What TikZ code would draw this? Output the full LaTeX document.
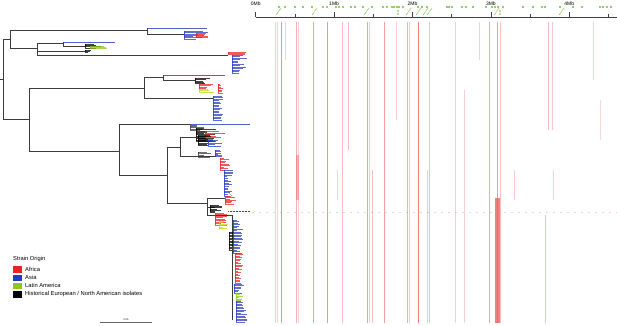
\documentclass[tikz,border=0pt]{standalone}
\usepackage{fontspec}
\setmainfont{Liberation Sans}
\definecolor{treegrey}{RGB}{60,60,60}
\definecolor{tipblue}{RGB}{40,60,190}
\definecolor{tipred}{RGB}{235,35,35}
\definecolor{tipgreen}{RGB}{140,200,20}
\definecolor{markgreen}{RGB}{110,190,50}
\definecolor{heat}{RGB}{238,95,95}
\newcommand{\tipfan}[6]{%
  \draw[fanline,#5] (#1,#2) -- ++(0,{(#3)*(#4)});
  \foreach \k in {0,...,#3}{
    \pgfmathsetmacro{\tl}{#6*(0.35+0.65*rnd)}
    \draw[tip,#5] (#1,{#2+\k*#4}) -- ++(\tl,0);
  }}
\begin{document}
\begin{tikzpicture}[x=1pt,y=-1pt,
    branch/.style={treegrey,line width=0.5pt},
    fanline/.style={line width=0.35pt,opacity=0.8},
    tip/.style={line width=0.2pt,opacity=0.75},
    heatline/.style={heat,line width=0.7pt},
    axis/.style={black!75,line width=0.6pt},
    mblabel/.style={font=\fontsize{5}{6}\selectfont,inner sep=0pt},
    legtext/.style={font=\fontsize{5.8}{6}\selectfont,anchor=west,inner sep=0pt},
    legbox/.style={minimum width=9.5pt,minimum height=6.5pt,inner sep=0pt}]
    \useasboundingbox (0,0) rectangle (617,325);
    \pgfmathsetseed{11}

    % genome axis
    \draw[axis] (255.7,17) -- (617,17);
    \foreach \mb [count=\i from 0] in {0Mb,1Mb,2Mb,3Mb,4Mb}{
        \draw[axis] ({255.7+78.4*\i},12) -- ({255.7+78.4*\i},17);
        \draw[axis] ({294.9+78.4*\i},14) -- ({294.9+78.4*\i},17);
        \node[mblabel] (mb\i) at ({255.7+78.4*\i},3.5) {\mb};
    }
    \foreach \gx in {279,285,295,303,312,323,327,336,339,343,351,355,363,372,383,387,392,394,397,399,403,418,422,427,447,449,452,462,466,473,486,492,495,498,503,523,533,542,545,560,573,582,600,603,607,611}
        \fill[markgreen] (\gx,7) circle (1.1);
    \foreach \gx in {279,315,367,409,419,426,430,497,562}
        \draw[markgreen,line width=0.6pt,dash pattern=on 1pt off 0.6pt] ({\gx-3},15) -- ({\gx+2},8);
    \foreach \gx in {398,500}{
        \fill[markgreen] (\gx,11) circle (0.8);
        \fill[markgreen] (\gx,14) circle (0.8);
    }

    % recombination heatmap
    \foreach \hx/\hy/\hz/\ho in {275/22/323/0.3,277/22/323/0.3,281/22/323/0.7,285/22/60/0.3,
        296/22/323/0.5,298/22/323/0.3,313/22/323/0.6,327/22/323/0.65,337/170/200/0.3,
        342/22/323/0.4,348/22/150/0.4,367/22/323/0.6,369/22/323/0.35,372/170/323/0.4,
        384/22/323/0.6,396/22/120/0.3,407/22/323/0.5,409/22/323/0.35,418/22/323/0.8,
        427/170/323/0.35,429/22/323/0.4,455/22/323/0.3,464/90/323/0.3,479/22/60/0.3,
        489/22/323/0.55,497/22/323/0.6,500/22/323/0.4,514/170/200/0.3,545/215/323/0.4,
        548/22/130/0.4,552/22/130/0.35,553/170/200/0.3,593/22/80/0.3,600/100/140/0.25}
        \draw[heatline,opacity=\ho] (\hx,\hy) -- (\hx,\hz);
    \fill[heat,opacity=0.45] (295.5,155) rectangle (298.5,200);
    \fill[heat,opacity=0.8] (495,198) rectangle (500,323);
    \draw[heat!60!gray,opacity=0.3,line width=0.3pt,dash pattern=on 2pt off 5pt] (252,212) -- (617,212);

    % tree
    \draw[branch] (0,79) -- (3,79);
    \draw[branch] (3,39) -- (3,119);
    \draw[branch] (3,39) -- (10,39);
    \draw[branch] (10,30) -- (10,48);
    \draw[branch] (10,30) -- (147,30);
    \draw[branch] (147,28) -- (147,34);
    \draw[fanline,tipblue] (147,28) -- (207,28);
    \draw[branch] (147,34) -- (184,34);
    \tipfan{184}{31}{6}{1.3}{tipblue}{25}
    \tipfan{196}{33}{3}{1.3}{tipred}{16}
    \draw[branch] (10,48) -- (37,48);
    \draw[branch] (37,43) -- (37,55);
    \draw[branch] (37,43) -- (63,43);
    \draw[branch] (63,42) -- (63,46);
    \draw[fanline,tipblue] (63,42) -- (115,42);
    \draw[branch] (63,46) -- (85,46);
    \tipfan{85}{44}{3}{1.2}{black}{20}
    \tipfan{90}{46}{2}{1.2}{tipgreen}{18}
    \draw[branch] (37,51) -- (85,51);
    \tipfan{85}{50}{2}{0.8}{black}{7}
    \draw[branch] (37,55) -- (228,55);
    \tipfan{228}{52}{2}{1.2}{tipred}{22}
    \tipfan{232}{55}{12}{1.5}{tipblue}{16}

    \draw[branch] (3,119) -- (29,119);
    \draw[branch] (29,88) -- (29,151);
    \draw[branch] (29,88) -- (144,88);
    \draw[branch] (144,77) -- (144,98);
    \draw[branch] (144,77) -- (163,77);
    \draw[branch] (163,75) -- (163,80);
    \draw[fanline,tipblue] (163,75) -- (225,75);
    \draw[branch] (163,80) -- (195,80);
    \tipfan{195}{78}{4}{1.3}{black}{20}
    \tipfan{199}{84}{3}{1.5}{tipred}{18}
    \tipfan{199}{89}{2}{1.4}{tipgreen!60!yellow}{16}
    \tipfan{218}{84}{6}{1.5}{tipred}{6}
    \draw[branch] (144,98) -- (213,98);
    \tipfan{213}{96}{16}{1.5}{tipblue}{12}

    \draw[branch] (29,151) -- (119,151);
    \draw[branch] (119,124) -- (119,175);
    \draw[branch] (119,124) -- (190,124);
    \draw[fanline,tipblue] (190,124) -- (250,124);
    \tipfan{190}{125}{4}{1.2}{treegrey}{15}
    \tipfan{196}{128}{10}{1.3}{black}{22}
    \tipfan{205}{131}{5}{1.6}{tipred}{22}
    \draw[branch] (119,175) -- (167,175);
    \draw[branch] (167,147) -- (167,203);
    \draw[branch] (167,147) -- (180,147);
    \draw[branch] (180,137) -- (180,156);
    \draw[branch] (180,137) -- (198,137);
    \tipfan{198}{135}{8}{1.3}{black}{18}
    \tipfan{208}{140}{4}{1.4}{tipblue}{14}
    \draw[branch] (180,156) -- (215,156);
    \tipfan{198}{152}{4}{1.3}{treegrey}{16}
    \tipfan{215}{150}{5}{1.3}{tipblue}{8}
    \tipfan{220}{158}{8}{1.5}{tipred}{10}
    \tipfan{224}{170}{16}{1.6}{tipblue}{9}

    \draw[branch] (167,203) -- (207,203);
    \draw[branch] (207,198) -- (207,215);
    \draw[branch] (207,198) -- (225,198);
    \tipfan{225}{196}{6}{1.3}{tipred}{12}
    \draw[tip,tipblue] (229,193) -- (232,196);
    \draw[branch] (207,207) -- (215,207);
    \tipfan{210}{205}{6}{1.2}{black}{14}
    \draw[tipblue,line width=0.6pt,dash pattern=on 1pt off 0.5pt] (228,211) -- (250,211);
    \draw[branch] (207,215) -- (232,215);
    \tipfan{215}{213}{8}{1.5}{tipred}{14}
    \tipfan{219}{221}{5}{1.5}{tipgreen!60!yellow}{10}
    \draw[branch] (232,215) -- (232,320);
    \tipfan{229}{232}{12}{1.5}{black}{6}
    \tipfan{233}{220}{22}{1.5}{tipblue}{10}
    \tipfan{235}{253}{20}{1.5}{tipred}{8}
    \tipfan{234}{284}{6}{1.5}{tipblue}{10}
    \tipfan{236}{293}{5}{1.4}{tipgreen}{8}
    \tipfan{236}{301}{14}{1.5}{tipblue}{12}

    % legend
    \node[legtext] (lgtitle) at (13,259) {Strain Origin};
    \node[legbox,fill=tipred,anchor=north west] (lgafr) at (12.7,266) {};
    \node[legbox,fill=tipblue,anchor=north west] (lgasia) at (12.7,274.3) {};
    \node[legbox,fill=tipgreen,anchor=north west] (lglat) at (12.7,282.6) {};
    \node[legbox,fill=black,anchor=north west] (lghist) at (12.7,290.9) {};
    \node[legtext] at (25,269.3) {Africa};
    \node[legtext] at (25,277.6) {Asia};
    \node[legtext] at (25,285.9) {Latin America};
    \node[legtext] at (25,294.2) {Historical European / North American isolates};

    % scale bar
    \draw[black!60,line width=0.5pt] (100,322) -- (152,322);
    \node[font=\fontsize{2.5}{3}\selectfont,inner sep=0pt] (scl) at (126,319.5) {0.05};
\end{tikzpicture}
\end{document}
